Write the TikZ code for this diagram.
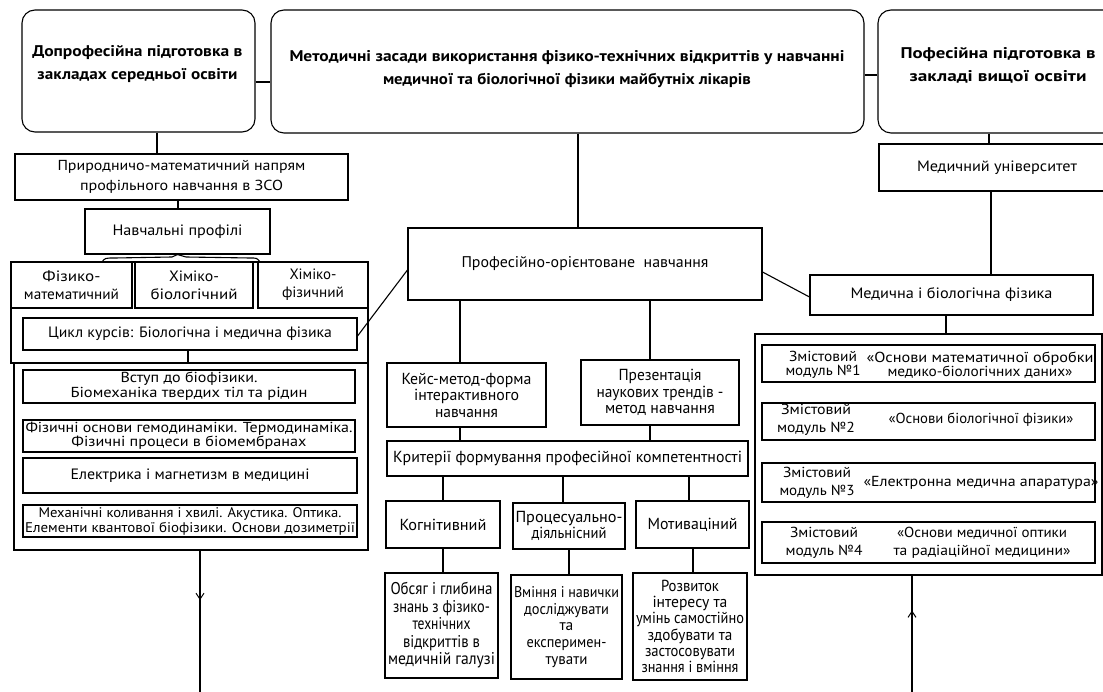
\documentclass[tikz,border=0pt]{standalone}
\usepackage{graphicx}
\usepackage{fontspec}
\setmainfont{PT Sans}
\usetikzlibrary{arrows.meta,decorations.markings}
\newcommand\fsz[2]{\fontsize{#1}{#2}\selectfont}
\newsavebox\fitbox
\newcommand\fw[2]{\sbox\fitbox{#2}\pgfmathsetmacro\fitsx{#1/\the\wd\fitbox}\scalebox{\fitsx}[1]{\usebox\fitbox}}
\begin{document}
\begin{tikzpicture}[x=1pt,y=-1pt,
  line width=1.1pt,
  box/.style={draw, line width=1.1pt, inner sep=1pt, align=center, font=\fsz{15}{18}},
  rbox/.style={draw, line width=1.1pt, rounded corners=13pt, inner sep=0pt},
  frame/.style={draw, line width=1.1pt, inner sep=0pt},
  plain/.style={inner sep=0pt, align=center},
  midarrow/.style={postaction={decorate}, decoration={markings, mark=at position #1 with {\arrow{Straight Barb[length=6pt,width=8pt,line width=1pt]}}}}
]
\useasboundingbox (0,0) rectangle (1103,692);
\fill[white] (0,0) rectangle (1103,692);

% top boxes
\node[rbox, minimum width=233pt, minimum height=122pt] (t1) at (138.5,71) {};
\node[plain, font=\bfseries\fsz{15.5}{23}] (t1txt) at (137.5,64.5) {\fw{210}{Допрофесійна підготовка в}\\\fw{200}{закладах середньої освіти}};
\node[rbox, minimum width=593pt, minimum height=123pt] (t2) at (567.5,71.5) {};
\node[plain, font=\bfseries\fsz{15.5}{23}] (t2txt) at (567,69) {\fw{555}{Методичні засади використання фізико-технічних відкриттів у навчанні}\\\fw{368}{медичної та біологічної фізики майбутніх лікарів}};
\node[rbox, minimum width=240pt, minimum height=123pt] (t3) at (998,71.5) {};
\node[plain, font=\bfseries\fsz{15.5}{23}] (t3txt) at (998,65) {\fw{195}{Пофесійна підготовка в}\\\fw{177}{закладі вищої освіти}};
\draw (t1.east |- 0,82) -- (t2.west |- 0,82);
\draw (t2.east |- 0,75) -- (t3.west |- 0,75);

% left column
\node[box, minimum width=333pt, minimum height=46pt, font=\fsz{14.5}{20}] (pr) at (181.5,177) {\fw{248}{Природничо-математичний напрям}\\\fw{203}{профільного навчання в ЗСО}};
\node[box, minimum width=185pt, minimum height=45pt] (np) at (177.5,231.5) {\fw{130}{Навчальні профілі}};
\draw (t1.south -| 157,0) -- (pr.north -| 157,0);
\draw (pr.south -| 178,0) -- (np.north -| 178,0);

\node[frame, minimum width=357pt, minimum height=101pt] (grpA) at (189.5,312.5) {};
\node[box, minimum width=121pt, minimum height=46pt, font=\fsz{15}{18}] (p1) at (71.5,285) {\fw{58}{Фізико-}\\\fw{95}{математичний}};
\node[box, minimum width=118pt, minimum height=46pt, font=\fsz{15}{18}] (p2) at (194,285) {\fw{50}{Хіміко-}\\\fw{87}{біологічний}};
\node[box, minimum width=110pt, minimum height=46pt, font=\fsz{15}{18}] (p3) at (313,285) {\fw{47}{Хіміко-}\\\fw{62}{фізичний}};
\draw (102,262) .. controls (105,258) .. (115,258) -- (172,257) -- (np.south) -- (186,257) -- (250,258) .. controls (257,258) .. (260,262);

\node[box, minimum width=334pt, minimum height=32pt, font=\fsz{15}{18}] (cyc) at (190,334) {\fw{284}{Цикл курсів: Біологічна і медична фізика}};
\node[frame, minimum width=354pt, minimum height=187pt] (grpB) at (191,456.5) {};
\draw (cyc.south -| 188,0) -- (grpB.north -| 188,0);

\node[box, minimum width=332pt, minimum height=33pt, font=\fsz{14.5}{15}] (c1) at (189,386.5) {\fw{137}{Вступ до біофізики.}\\\fw{237}{Біомеханіка твердих тіл та рідин}};
\node[box, minimum width=332pt, minimum height=32pt, font=\fsz{14.5}{14}] (c2) at (189,436) {\fw{327}{Фізичні основи гемодинаміки. Термодинаміка.}\\\fw{235}{Фізичні процеси в біомембранах}};
\node[box, minimum width=334pt, minimum height=35pt, font=\fsz{15}{15}] (c3) at (190,475.5) {\fw{239}{Електрика і магнетизм в медицині}};
\node[box, minimum width=334pt, minimum height=32pt, font=\fsz{14}{15}] (c4) at (190,521) {\fw{303}{Механічні коливання і хвилі. Акустика. Оптика.}\\\fw{330}{Елементи квантової біофізики. Основи дозиметрії}};

\coordinate (endL) at (200,692);
\draw[midarrow=0.35] (grpB.south -| endL) -- (endL);

% middle column
\node[box, minimum width=354pt, minimum height=72pt, font=\fsz{15.5}{18}] (po) at (585,264) {\fw{247}{Професійно-орієнтоване\ \ навчання}};
\draw (t2.south -| 578,0) -- (po.north -| 578,0);
\node[box, minimum width=159pt, minimum height=64pt, font=\fsz{16}{16.5}] (km) at (466.5,395) {\fw{130}{Кейс-метод-форма}\\\fw{105}{інтерактивного}\\\fw{63}{навчання}};
\node[box, minimum width=158pt, minimum height=65pt, font=\fsz{16}{16.5}] (pt) at (660,392.5) {\fw{83}{Презентація}\\\fw{127}{наукових трендів -}\\\fw{110}{метод навчання}};
\node[box, minimum width=361pt, minimum height=35pt, font=\fsz{16}{18}] (kr) at (567.5,458.5) {\fw{349}{Критерії формування професійної компетентності}};
\draw (po.south -| 460,0) -- (km.north -| 460,0);
\draw (po.south -| 650,0) -- (pt.north -| 650,0);
\draw (km.south -| 460,0) -- (kr.north -| 460,0);
\draw (pt.south -| 650,0) -- (kr.north -| 650,0);

\node[box, minimum width=114pt, minimum height=47pt, font=\fsz{16}{18}] (kg) at (443,524.5) {\fw{87}{Когнітивний}};
\node[box, minimum width=112pt, minimum height=46pt, font=\fsz{16}{16.5}] (ps) at (569,526) {\fw{107}{Процесуально-}\\\fw{75}{діяльнісний}};
\node[box, minimum width=113pt, minimum height=47pt, font=\fsz{16}{18}] (mt) at (692.5,524.5) {\fw{90}{Мотиваціний}};
\draw (kr.south -| 443,0) -- (kg.north -| 443,0);
\draw (kr.south -| 563,0) -- (ps.north -| 563,0);
\draw (kr.south -| 689,0) -- (mt.north -| 689,0);

\node[box, minimum width=113pt, minimum height=105pt, font=\fsz{17}{17.5}] (ob) at (441.5,625.5) {\fw{102}{Обсяг і глибина}\\\fw{97}{знань з фізико-}\\\fw{58}{технічних}\\\fw{77}{відкриттів в}\\\fw{107}{медичній галузі}};
\node[box, minimum width=111pt, minimum height=104pt, font=\fsz{15.5}{16.7}] (vm) at (566.5,627) {\fw{105}{Вміння і навички}\\\fw{85}{досліджувати}\\та\\\fw{80}{експеримен-}\\\fw{42}{тувати}};
\node[box, minimum width=114pt, minimum height=107pt, font=\fsz{16}{16.3}] (rz) at (690,626.5) {\fw{58}{Розвиток}\\\fw{75}{інтересу та}\\\fw{108}{умінь самостійно}\\\fw{85}{здобувати та}\\\fw{90}{застосовувати}\\\fw{97}{знання і вміння}};
\draw (kg.south -| 443,0) -- (ob.north -| 443,0);
\draw (ps.south -| 569,0) -- (vm.north -| 569,0);
\draw (mt.south -| 693,0) -- (rz.north -| 693,0);

% right column
\node[box, minimum width=236pt, minimum height=47pt, font=\fsz{15}{18}] (mu) at (997,167.5) {\fw{160}{Медичний університет}};
\draw (t3.south -| 989,0) -- (mu.north -| 989,0);
\node[box, minimum width=283pt, minimum height=40pt, font=\fsz{15}{18}] (mb) at (951.5,295) {\fw{202}{Медична і біологічна фізика}};
\draw (mu.south -| 991,0) -- (mb.north -| 991,0);

% diagonals
\draw (po.west |- 0,270) -- (cyc.east |- 0,336);
\draw (po.east |- 0,272) -- (mb.west |- 0,297);

\node[frame, minimum width=347pt, minimum height=241pt] (grpC) at (928.5,454.5) {};
\draw (mb.south -| 946,0) -- (grpC.north -| 946,0);

\node[frame, minimum width=333pt, minimum height=37pt] (m1) at (928.5,363.5) {};
\node[frame, minimum width=333pt, minimum height=37pt] (m2) at (928.5,421.5) {};
\node[frame, minimum width=333pt, minimum height=39pt] (m3) at (928.5,482.5) {};
\node[frame, minimum width=333pt, minimum height=41pt] (m4) at (928.5,542.5) {};
\node[plain, font=\fsz{14.5}{14}] (m1a) at (823,365) {\fw{68}{Змістовий}\\\fw{75}{модуль №1}};
\node[plain, font=\fsz{14.5}{13.5}] (m1b) at (980,365) {\fw{227}{«Основи математичної обробки}\\\fw{185}{медико-біологічних даних»}};
\node[plain, font=\fsz{14.5}{18}] (m2a) at (816,420) {\fw{70}{Змістовий}\\\fw{78}{модуль №2}};
\node[plain, font=\fsz{14.5}{18}] (m2b) at (981,420) {\fw{185}{«Основи біологічної фізики»}};
\node[plain, font=\fsz{14.5}{18}] (m3a) at (817,482.5) {\fw{68}{Змістовий}\\\fw{75}{модуль №3}};
\node[plain, font=\fsz{14.5}{18}] (m3b) at (981,482.5) {\fw{235}{«Електронна медична апаратура»}};
\node[plain, font=\fsz{14.5}{18}] (m4a) at (824,542.5) {\fw{68}{Змістовий}\\\fw{77}{модуль №4}};
\node[plain, font=\fsz{14.5}{18}] (m4b) at (982,542.5) {\fw{170}{«Основи медичної оптики}\\\fw{177}{та радіаційної медицини»}};

\coordinate (endR) at (912,692);
\draw[midarrow=0.7] (endR) -- (grpC.south -| endR);
\end{tikzpicture}
\end{document}
